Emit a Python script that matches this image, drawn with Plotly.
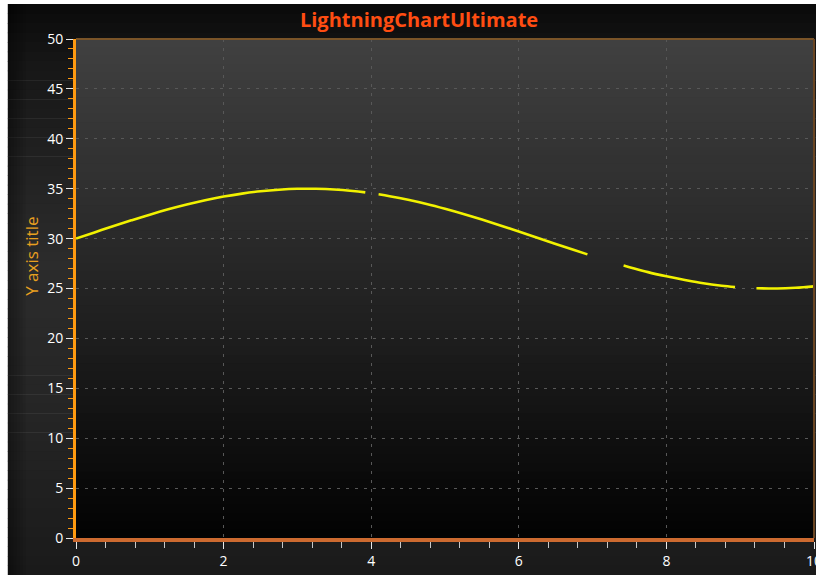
import plotly.graph_objects as go

# ---- data ----
x_values = [0.0, 0.25, 0.5, 0.75, 1.0, 1.25, 1.5, 1.75, 2.0, 2.25, 2.5, 2.75, 3.0, 3.25, 3.5, 3.75, 3.92,
            None,
            4.1, 4.25, 4.5, 4.75, 5.0, 5.25, 5.5, 5.75, 6.0, 6.25, 6.5, 6.75, 6.93,
            None,
            7.42, 7.5, 7.75, 8.0, 8.25, 8.5, 8.75, 8.93,
            None,
            9.22, 9.5, 9.75, 10.0]
y_values = [30.00, 30.62, 31.24, 31.83, 32.40, 32.93, 33.41, 33.84, 34.21, 34.51, 34.74, 34.90, 34.99, 34.99, 34.92, 34.77, 34.63,
            None,
            34.44, 34.25, 33.89, 33.47, 32.99, 32.47, 31.91, 31.32, 30.71, 30.08, 29.46, 28.85, 28.42,
            None,
            27.30, 27.14, 26.64, 26.22, 25.85, 25.52, 25.28, 25.15,
            None,
            25.03, 25.00, 25.07, 25.21]
x_tick_values = [0, 2, 4, 6, 8, 10]
y_tick_values = [0, 5, 10, 15, 20, 25, 30, 35, 40, 45, 50]

# horizontal layout factor (page is photographed slightly wider than 816 and scaled down)
K = 826 / 816
W, H = round(816 * K), 575
PL, PR, PT, PB = 75, 812, 39, 538  # plot area in reference px

def sx(X):  # reference x px -> figure x px
    return X * K

L, R, T, B = round(sx(PL)), round(W - sx(PR)), PT, H - PB
PW, PH = W - L - R, H - T - B

def px_x(X):  # reference x px -> paper
    return (sx(X) - L) / PW

def px_y(Y):
    return (H - B - Y) / PH

def lerp_color(stops, t):
    for i in range(len(stops) - 1):
        t0, c0 = stops[i]
        t1, c1 = stops[i + 1]
        if t0 <= t <= t1:
            f = (t - t0) / (t1 - t0) if t1 > t0 else 0
            c = [round(c0[k] + (c1[k] - c0[k]) * f) for k in range(3)]
            return "rgb(%d,%d,%d)" % tuple(c)
    c = stops[-1][1]
    return "rgb(%d,%d,%d)" % tuple(c)

shapes = []
# outer chart background (vertical gradient), white strips left/top as in the reference
outer_stops = [(0.0, (10, 10, 10)), (0.1, (22, 22, 22)), (0.45, (44, 44, 44)), (0.75, (36, 36, 36)), (1.0, (26, 26, 26))]
n = 60
top_px, bot_px = 4, H
for i in range(n):
    y0 = top_px + (bot_px - top_px) * i / n
    y1 = min(top_px + (bot_px - top_px) * (i + 1) / n + 0.6, H)
    col = lerp_color(outer_stops, (i + 0.5) / n)
    shapes.append(dict(type="rect", xref="paper", yref="paper", layer="below",
                       x0=px_x(7), x1=1 + R / PW, y0=px_y(y1), y1=px_y(y0),
                       fillcolor=col, line=dict(width=0)))
# darken left edge softly
for i in range(6):
    shapes.append(dict(type="rect", xref="paper", yref="paper", layer="below",
                       x0=px_x(7), x1=px_x(7 + 3 * (6 - i)), y0=px_y(H), y1=px_y(4),
                       fillcolor="rgba(0,0,0,0.06)", line=dict(width=0)))
# plot area gradient
plot_stops = [(0.0, (64, 64, 64)), (0.5, (36, 36, 36)), (1.0, (2, 2, 2))]
m = 60
for i in range(m):
    col = lerp_color(plot_stops, (i + 0.5) / m)
    shapes.append(dict(type="rect", xref="paper", yref="paper", layer="below",
                       x0=0, x1=1, y0=max(1 - (i + 1) / m - 0.002, 0), y1=1 - i / m,
                       fillcolor=col, line=dict(width=0)))
# top and right borders
shapes.append(dict(type="line", xref="paper", yref="paper", layer="above",
                   x0=0, x1=1, y0=1, y1=1, line=dict(color="#7a5428", width=2)))
shapes.append(dict(type="line", xref="paper", yref="paper", layer="above",
                   x0=1, x1=1, y0=0, y1=1, line=dict(color="#6a4522", width=2)))

fig = go.Figure()
fig.add_trace(go.Scatter(x=x_values, y=y_values, mode="lines",
                         line=dict(color="#f2f200", width=2.6, shape="spline"),
                         connectgaps=False, showlegend=False, hoverinfo="skip"))

grid_col = "#585858"
fig.update_layout(
    width=W, height=H,
    margin=dict(l=L, r=R, t=T, b=B, pad=0),
    paper_bgcolor="white",
    plot_bgcolor="rgba(0,0,0,0)",
    font=dict(family="Open Sans", color="white", size=14),
    title=dict(text="<b>LightningChartUltimate</b>", x=414 / 816, xref="container", xanchor="center",
               y=1 - 20 / H, yref="container", yanchor="middle",
               font=dict(family="Open Sans", size=20, color="#ff4d12")),
    shapes=shapes,
    annotations=[dict(text="Y axis title", xref="paper", yref="paper", x=px_x(30), y=px_y(256),
                      xanchor="center", yanchor="middle", textangle=-90, showarrow=False,
                      font=dict(color="#e8a020", size=17))],
    xaxis=dict(range=[0, 10], tickvals=x_tick_values, ticks="outside", ticklen=7, tickwidth=1,
               tickcolor="#e8e8e8", showline=True, linecolor="#cc6a30", linewidth=4,
               showgrid=True, gridcolor=grid_col, griddash="3px,6px", gridwidth=1, zeroline=False,
               tickfont=dict(color="white", size=14), ticklabeloverflow="allow",
               minor=dict(dtick=0.4, ticks="outside", ticklen=6, tickcolor="#c8c8c8", showgrid=False)),
    yaxis=dict(range=[0, 50], tickvals=y_tick_values, ticks="outside", ticklen=7, tickwidth=1,
               tickcolor="#e8e8e8", showline=True, linecolor="#ff9a10", linewidth=3,
               showgrid=True, gridcolor=grid_col, griddash="3px,6px", gridwidth=1, zeroline=False,
               tickfont=dict(color="white", size=14),
               minor=dict(dtick=1, ticks="outside", ticklen=5, tickcolor="#ff9a10", showgrid=False)),
)

post = ("document.body.style.margin='0';"
        "document.documentElement.style.overflow='hidden';"
        "document.body.style.overflow='hidden';"
        "var gd=document.getElementById('{plot_id}');"
        "gd.style.overflow='hidden';"
        "gd.querySelectorAll('div,svg').forEach(function(e){e.style.overflow='hidden';});")

fig.write_html("out.html", config={"displayModeBar": False}, post_script=post)
